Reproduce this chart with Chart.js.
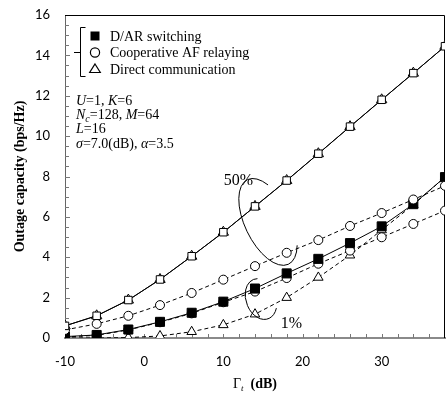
<!DOCTYPE html>
<html>
<head>
<meta charset="utf-8">
<script src="https://cdn.jsdelivr.net/npm/chart.js@4.4.1/dist/chart.umd.min.js"></script>
<style>
html,body{margin:0;padding:0;background:#fff;}
canvas{display:block;}
</style>
</head>
<body>
<canvas id="c" width="447" height="403"></canvas>
<script>
// ---- data ----
const gamma      = [-10, -6, -2, 2, 6, 10, 14, 18, 22, 26, 30, 34, 38];
// 50% outage
const dar50      = [0.6, 1.1, 1.88, 2.9, 4.05, 5.24, 6.52, 7.8, 9.13, 10.47, 11.8, 13.12, 14.45];
const direct50   = [0.6, 1.1, 1.88, 2.9, 4.05, 5.24, 6.52, 7.8, 9.13, 10.47, 11.8, 13.12, 14.45];
const af50       = [0.4, 0.7, 1.1, 1.63, 2.23, 2.89, 3.56, 4.22, 4.85, 5.55, 6.19, 6.86, 7.54];
// 1% outage
const dar1       = [0.07, 0.15, 0.42, 0.8, 1.25, 1.8, 2.45, 3.2, 3.92, 4.7, 5.53, 6.63, 7.97];
const af1        = [0.05, 0.13, 0.4, 0.78, 1.22, 1.77, 2.3, 2.97, 3.68, 4.33, 4.99, 5.65, 6.31];
const direct1    = [0, 0, 0.02, 0.1, 0.31, 0.65, 1.18, 2.0, 3.0, 4.1, 5.35, 6.6, 7.97];

const xTickLabels = [-10, 0, 10, 20, 30];
const yTickLabels = [0, 2, 4, 6, 8, 10, 12, 14, 16];
const legendLabels = ['D/AR switching', 'Cooperative AF relaying', 'Direct communication'];

const SERIF = "'Liberation Serif', 'Times New Roman', serif";
const pts = arr => arr.map((v, i) => ({x: gamma[i], y: v}));

function ds(data, style, opts) {
  return Object.assign({
    data: pts(data),
    borderColor: '#000',
    borderWidth: 1,
    borderDash: style === 'dash' ? [4, 3] : [],
    pointStyle: 'circle',
    pointRadius: 4.5,
    pointHoverRadius: 0,
    pointBorderColor: '#000',
    pointBorderWidth: 1,
    pointBackgroundColor: '#fff',
    tension: 0,
    fill: false
  }, opts);
}

const datasets = [
  ds(dar50, 'solid', {pointStyle: 'rect', pointRadius: 5.3, order: 1}),
  ds(direct50, 'solid', {pointStyle: 'triangle', pointRadius: 6, order: 2}),
  ds(af50, 'dash', {pointStyle: 'circle', pointRadius: 4.5, order: 3}),
  ds(dar1, 'solid', {pointStyle: 'rect', pointRadius: 6.4, pointBackgroundColor: '#000', order: 4}),
  ds(af1, 'dash', {pointStyle: 'circle', pointRadius: 4.5, order: 5}),
  ds(direct1, 'dash', {pointStyle: 'triangle', pointRadius: 5.5, order: 6})
];

// annotation ellipses: centre in data units, radii in px
const ellipses = [
  {cx: 15.64, cy: 5.75, a: 47, b: 23, rot: 64, start: -44, end: 225},
  {cx: 14.76, cy: 1.93, a: 21, b: 15, rot: 70, start: -49, end: 194}
];
const annTexts = [
  {text: '50%', x: 11.9, y: 7.58},
  {text: '1%', x: 18.6, y: 0.5}
];

function runs(ctx, x, y, parts) {
  parts.forEach(p => {
    ctx.font = p[1];
    ctx.fillText(p[0], x, y + (p[2] || 0));
    x += ctx.measureText(p[0]).width;
  });
  return x;
}
function runsWidth(ctx, parts) {
  let w = 0;
  parts.forEach(p => { ctx.font = p[1]; w += ctx.measureText(p[0]).width; });
  return w;
}

const deco = {
  id: 'deco',
  beforeDatasetsDraw(chart) {
    const {ctx, chartArea: a, scales: {x, y}} = chart;
    ctx.save();
    ctx.strokeStyle = '#000';
    ctx.lineWidth = 1;
    ctx.beginPath();
    ctx.moveTo(a.left, a.top + 0.5);
    ctx.lineTo(a.right - 0.5, a.top + 0.5);
    ctx.lineTo(a.right - 0.5, a.bottom);
    ctx.stroke();
    ctx.strokeStyle = '#777';
    y.ticks.forEach(t => {
      if (t.value <= 0 || t.value >= 16) return;
      const py = Math.round(y.getPixelForValue(t.value)) + 0.5;
      const len = (t.value % 2 === 0) ? 5 : 4;
      ctx.beginPath(); ctx.moveTo(a.left, py); ctx.lineTo(a.left + len, py); ctx.stroke();
    });
    x.ticks.forEach(t => {
      if (t.value <= -10 || t.value >= 38) return;
      const px = Math.round(x.getPixelForValue(t.value)) + 0.5;
      ctx.beginPath(); ctx.moveTo(px, a.bottom); ctx.lineTo(px, a.bottom - 4); ctx.stroke();
    });
    ctx.restore();
  },
  afterDatasetsDraw(chart) {
    const {ctx, chartArea: a, scales: {x, y}} = chart;
    ctx.save();
    ctx.fillStyle = '#000';
    ctx.strokeStyle = '#000';
    ctx.lineWidth = 1;
    // ellipses
    ellipses.forEach(e => {
      ctx.beginPath();
      ctx.ellipse(x.getPixelForValue(e.cx), y.getPixelForValue(e.cy), e.a, e.b,
        e.rot * Math.PI / 180, e.start * Math.PI / 180, e.end * Math.PI / 180);
      ctx.stroke();
    });
    // annotation texts
    ctx.textAlign = 'center';
    ctx.textBaseline = 'alphabetic';
    ctx.font = '16px ' + SERIF;
    annTexts.forEach(t => ctx.fillText(t.text, x.getPixelForValue(t.x), y.getPixelForValue(t.y)));

    // legend with bracket
    ctx.beginPath();
    ctx.moveTo(85.5, 27.5); ctx.lineTo(80.5, 27.5); ctx.lineTo(80.5, 76.5); ctx.lineTo(85.5, 76.5);
    ctx.moveTo(74, 52.5); ctx.lineTo(80.5, 52.5);
    ctx.stroke();
    // markers
    ctx.fillRect(90.5, 31.5, 9, 9);
    ctx.lineWidth = 1.2;
    ctx.beginPath(); ctx.arc(95, 52.5, 4.6, 0, Math.PI * 2); ctx.stroke();
    ctx.beginPath(); ctx.moveTo(95, 64); ctx.lineTo(100.3, 72.5); ctx.lineTo(89.7, 72.5); ctx.closePath(); ctx.stroke();
    ctx.lineWidth = 1;
    ctx.textAlign = 'left';
    ctx.font = '14px ' + SERIF;
    ctx.fillText(legendLabels[0], 110, 41);
    ctx.fillText(legendLabels[1], 110, 57);
    ctx.fillText(legendLabels[2], 110, 73.5);

    // parameter block
    const R = '14px ' + SERIF, I = 'italic 14px ' + SERIF, IS = 'italic 10px ' + SERIF;
    runs(ctx, 76, 105, [['U', I], ['=1, ', R], ['K', I], ['=6', R]]);
    runs(ctx, 76, 119, [['N', I], ['c', IS, 3], ['=128, ', R], ['M', I], ['=64', R]]);
    runs(ctx, 76, 133, [['L', I], ['=16', R]]);
    runs(ctx, 76, 147.5, [['σ', I], ['=7.0(dB), ', R], ['α', I], ['=3.5', R]]);

    // x title
    const xt = [['Γ', '14px ' + SERIF], ['t', 'italic 9px ' + SERIF, 3], ['  ', '14px ' + SERIF], ['(dB)', 'bold 14px ' + SERIF]];
    const w = runsWidth(ctx, xt);
    runs(ctx, (a.left + a.right) / 2 - w / 2, 388, xt);

    // y title
    ctx.save();
    ctx.translate(20, (a.top + a.bottom) / 2);
    ctx.rotate(-Math.PI / 2);
    ctx.textAlign = 'center';
    ctx.textBaseline = 'middle';
    ctx.font = 'bold 14px ' + SERIF;
    ctx.fillText('Outage capacity (bps/Hz)', 0, 0);
    ctx.restore();
    ctx.restore();
  }
};

function fixX(s) { s.height = 65; s.paddingLeft = 0; s.paddingRight = 0; s.paddingTop = 0; s.paddingBottom = 0; }
function fixY(s) { s.width = 65; s.paddingLeft = 0; s.paddingRight = 0; s.paddingTop = 0; s.paddingBottom = 0; }

new Chart(document.getElementById('c'), {
  type: 'line',
  data: {datasets},
  options: {
    responsive: false,
    animation: false,
    devicePixelRatio: 1,
    layout: {autoPadding: false, padding: {left: 0, right: 2, top: 15, bottom: 0}},
    plugins: {legend: {display: false}, tooltip: {enabled: false}, title: {display: false}},
    scales: {
      x: {
        type: 'linear', min: -10, max: 38,
        ticks: {
          stepSize: 2, autoSkip: false, maxRotation: 0, padding: 16,
          color: '#000', font: {family: 'Lato', size: 13},
          callback: v => xTickLabels.includes(v) ? String(v) : ''
        },
        grid: {drawOnChartArea: false, drawTicks: false},
        border: {color: '#8a8a8a', width: 2},
        afterFit: fixX
      },
      y: {
        type: 'linear', min: 0, max: 16,
        ticks: {
          stepSize: 0.5, autoSkip: false, padding: 15,
          color: '#000', font: {family: 'Lato', size: 13},
          callback: v => yTickLabels.includes(v) ? String(v) : ''
        },
        grid: {drawOnChartArea: false, drawTicks: false},
        border: {color: '#666', width: 1},
        afterFit: fixY
      }
    }
  },
  plugins: [deco]
});
</script>
</body>
</html>
